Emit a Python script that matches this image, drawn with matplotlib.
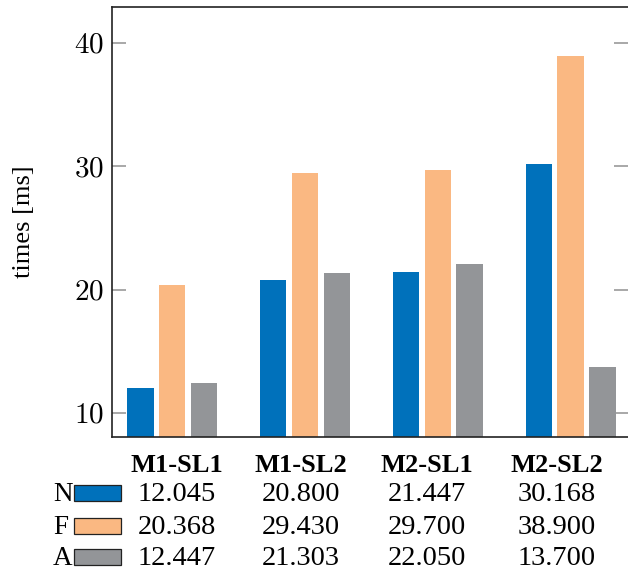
import matplotlib
matplotlib.use("Agg")
import matplotlib.pyplot as plt
from matplotlib.patches import Rectangle
from matplotlib.ticker import FuncFormatter

categories = ["M1-SL1", "M1-SL2", "M2-SL1", "M2-SL2"]
series_names = ["N", "F", "A"]
N_vals = [12.045, 20.800, 21.447, 30.168]
F_vals = [20.368, 29.430, 29.700, 38.900]
A_vals = [12.447, 21.303, 22.050, 13.700]
N_labels = ["12.045", "20.800", "21.447", "30.168"]
F_labels = ["20.368", "29.430", "29.700", "38.900"]
A_labels = ["12.447", "21.303", "22.050", "13.700"]
yticks = [10, 20, 30, 40]

colors = ["#0071BB", "#FAB882", "#939598"]
series = [N_vals, F_vals, A_vals]
labels = [N_labels, F_labels, A_labels]

plt.rcParams["mathtext.fontset"] = "cm"
serif = ["Liberation Serif", "DejaVu Serif"]
plt.rcParams["font.family"] = serif

W, H = 628, 571
fig = plt.figure(figsize=(W / 100, H / 100), dpi=100)
ax = fig.add_axes([112 / W, 1 - 437 / H, (628 - 112) / W, (437 - 7) / H])

width = 0.198
offset = 0.2395
for i, (vals, c) in enumerate(zip(series, colors)):
    xs = [k + (i - 1) * offset for k in range(len(categories))]
    ax.bar(xs, vals, width=width, color=c, bottom=0, zorder=2)

ax.set_xlim(-0.453, 3.432)
ax.set_ylim(8.05, 42.9)
ax.set_xticks([])
ax.set_yticks(yticks)
ax.yaxis.set_major_formatter(FuncFormatter(lambda v, p: r"$%d$" % v))
ax.tick_params(axis="y", direction="in", length=10, width=1.2, color="#999999",
               left=True, right=True, labelsize=21, pad=6)
for s in ["left", "top", "bottom"]:
    ax.spines[s].set_color("#222222")
    ax.spines[s].set_linewidth(1.2)
ax.spines["right"].set_visible(False)

fig.text(24 / W, 1 - 222 / H, "times [ms]", rotation=90, ha="center", va="center",
         fontsize=19, family=serif)

col_x = [177, 301, 427, 557]
for cx, cat in zip(col_x, categories):
    fig.text(cx / W, 1 - 472 / H, cat, ha="center", va="baseline",
             fontsize=19, fontweight="bold", family=serif)

row_base = [501, 534, 565]
for name, c, labs, yb in zip(series_names, colors, labels, row_base):
    fig.text(53 / W, 1 - yb / H, name, ha="left", va="baseline", fontsize=19.5, family=serif)
    fig.patches.append(Rectangle((74 / W, 1 - yb / H), (121 - 74) / W, 16 / H,
                                 transform=fig.transFigure, facecolor=c,
                                 edgecolor="#222222", linewidth=0.9))
    for cx, t in zip(col_x, labs):
        fig.text(cx / W, 1 - yb / H, t, ha="center", va="baseline", fontsize=20.5, family=serif)

fig.savefig("out.png", dpi=100)
